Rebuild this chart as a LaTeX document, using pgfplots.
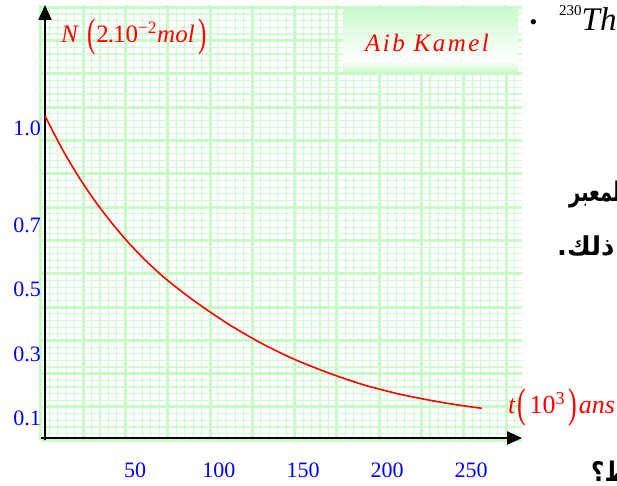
\documentclass[border=0pt]{standalone}
\usepackage{fontspec}
\setmainfont{Liberation Serif}
\newfontfamily\arabicfont[Script=Arabic]{DejaVu Sans}
\TeXXeTstate=1
\usepackage{pgfplots}
\pgfplotsset{compat=1.18}
\usetikzlibrary{arrows.meta}

\definecolor{paper}{RGB}{200,250,200}
\definecolor{paperminor}{RGB}{208,250,208}
\pgfdeclareverticalshading{kamel}{100bp}{color(0bp)=(paper); color(25bp)=(paper); color(34bp)=(white); color(75bp)=(paper); color(100bp)=(paper)}

\begin{document}
\begin{tikzpicture}
\path[use as bounding box] (0,0) rectangle (617bp,-486bp);

\begin{axis}[
  anchor=origin, at={(45bp,-438bp)},
  x=1.68bp, y=323bp,
  xmin=-2.5, xmax=284, ymin=-0.0071, ymax=1.3406,
  enlargelimits=false, clip=false,
  axis lines=middle,
  axis line style={line width=2.2bp, black, -{Triangle[length=15bp,width=13bp]}},
  xtick={-2.5,22.68,47.86,73.04,98.22,123.4,148.58,173.76,198.94,224.12,249.3,274.48,299.66},
  ytick={-0.0071,0.096,0.1991,0.3022,0.4053,0.5084,0.6115,0.7146,0.8177,0.9208,1.0239,1.127,1.2301,1.3332},
  xticklabels={}, yticklabels={},
  minor x tick num=4, minor y tick num=4,
  grid=both,
  major grid style={draw=paper, line width=3bp},
  minor grid style={draw=paperminor, line width=1.1bp},
  tick style={draw=none}, major tick length=0, minor tick length=0,
  extra x ticks={50,100,150,200,250},
  extra x tick labels={50,100,150,200,250},
  extra y ticks={0.1,0.3,0.5,0.7,1.0},
  extra y tick labels={0.1,0.3,0.5,0.7,1.0},
  extra tick style={grid=none, tick style={draw=none}},
  tick label style={font=\fontsize{22bp}{22bp}\selectfont, text=blue, inner sep=2bp},
  xticklabel style={anchor=center, xshift=6bp, yshift=-32bp},
  yticklabel style={anchor=east, xshift=-2bp, yshift=-13bp},
]
\addplot[red, line width=1.6bp, smooth] coordinates {
  (0,0.997) (10,0.897) (20,0.809) (30,0.732) (40,0.664) (50,0.603)
  (60,0.549) (70,0.501) (80,0.459) (90,0.420) (100,0.384) (110,0.350)
  (120,0.319) (130,0.290) (140,0.264) (150,0.240) (160,0.219)
  (170,0.199) (180,0.181) (190,0.164) (200,0.150) (210,0.137)
  (220,0.126) (230,0.116) (240,0.107) (250,0.099) (260,0.092)
};
\end{axis}

% name box
\shade[shading=kamel] (343bp,-7bp) rectangle (518bp,-72bp);
\node[anchor=base, inner sep=0, text=red] at (427bp,-51bp)
  {\fontsize{25bp}{25bp}\selectfont\itshape\addfontfeature{LetterSpace=10}Aib Kamel};

% axis titles
\node[anchor=base west, inner sep=0, text=red] at (61bp,-42bp)
  {\fontsize{25bp}{25bp}\selectfont\textit{N}\hspace{8bp}\raisebox{-4bp}{\scalebox{1}[1.6]{(}}\hspace{1bp}2\kern-1bp.\kern-1bp10\textsuperscript{−2}\textit{mol}\hspace{4bp}\raisebox{-4bp}{\scalebox{1}[1.6]{)}}};
\node[anchor=base west, inner sep=0, text=red] at (508bp,-413bp)
  {\fontsize{26bp}{26bp}\selectfont\textit{t}\hspace{2bp}\raisebox{-4bp}{\scalebox{1}[1.6]{(}}\hspace{3bp}10\textsuperscript{3}\hspace{3bp}\raisebox{-4bp}{\scalebox{1}[1.6]{)}}\hspace{2bp}\textit{ans}};

% surrounding page text
\node[anchor=center, inner sep=0] at (533.5bp,-24.5bp) {\fontsize{22bp}{22bp}\selectfont •};
\node[anchor=base west, inner sep=0] at (559bp,-30bp)
  {\raisebox{15bp}{\fontsize{15bp}{15bp}\selectfont 230}\fontsize{33bp}{33bp}\selectfont\textit{Th}};
\node[anchor=base west, inner sep=0] at (569bp,-201bp)
  {\scalebox{0.72}[1]{\arabicfont\bfseries\fontsize{27bp}{27bp}\selectfont\beginR المعبر\endR}};
\node[anchor=base west, inner sep=0] at (557bp,-255bp)
  {\arabicfont\bfseries\fontsize{26bp}{26bp}\selectfont\beginR ذلك.\endR};
\node[anchor=base west, inner sep=0] at (591bp,-481bp)
  {\scalebox{0.85}[1]{\arabicfont\bfseries\fontsize{27bp}{27bp}\selectfont\beginR ط؟\endR}};
\end{tikzpicture}
\end{document}
